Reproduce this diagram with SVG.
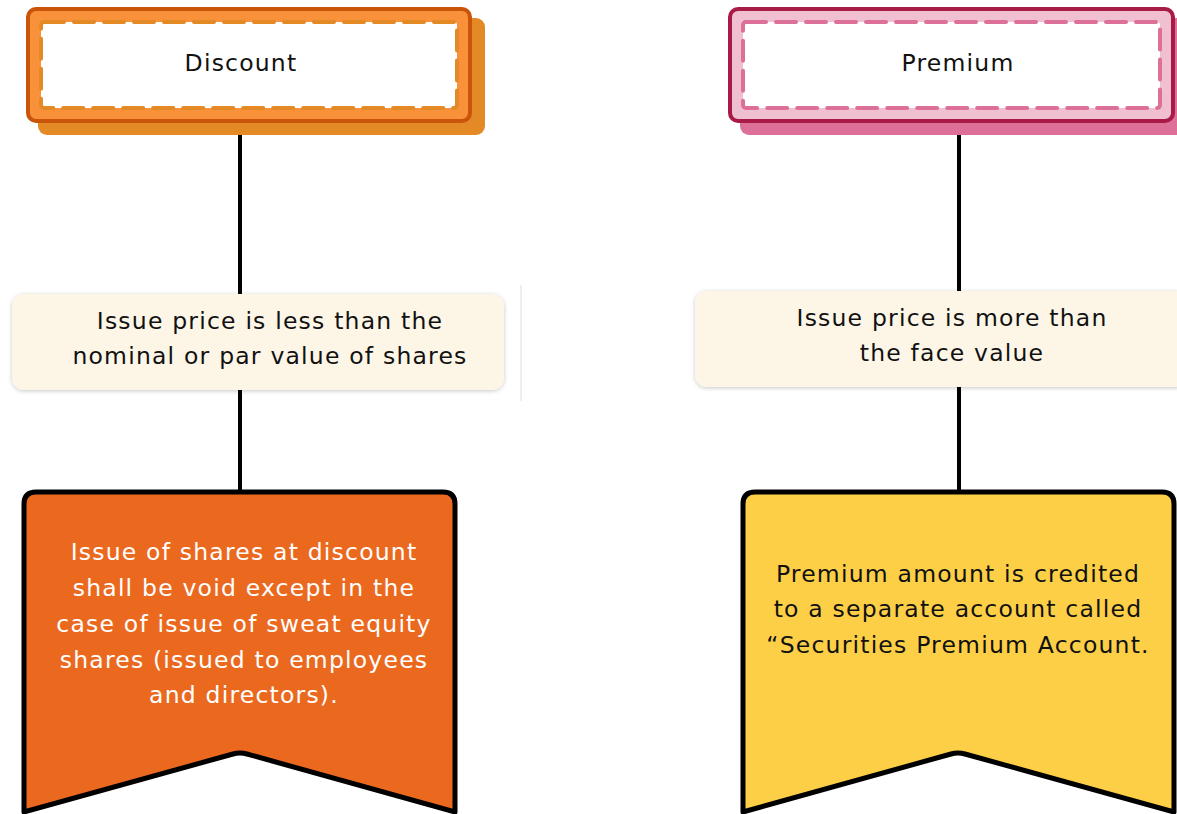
<svg xmlns="http://www.w3.org/2000/svg" width="1177" height="814" viewBox="0 0 1177 814">
<defs>
<style>
text{font-family:"DejaVu Sans","Open Sans",sans-serif;font-size:23.5px;letter-spacing:1.2px;text-anchor:middle;}
.dark{fill:#111;}
.white{fill:#fff;}
.conn{stroke:#000;stroke-width:4;fill:none;}
.mid{fill:#FDF6E7;filter:url(#sh);}
.ban{stroke:#000;stroke-width:5;stroke-linejoin:round;}
</style>
<filter id="sh" x="-10%" y="-20%" width="120%" height="150%">
<feDropShadow dx="0" dy="1" stdDeviation="2" flood-color="#000" flood-opacity="0.22"/>
</filter>
</defs>
<rect width="1177" height="814" fill="#fff"/>
<g id="connectors">
<line class="conn" x1="240" y1="121" x2="240" y2="300"/>
<line class="conn" x1="240" y1="385" x2="240" y2="494"/>
<line class="conn" x1="959" y1="121" x2="959" y2="297"/>
<line class="conn" x1="959" y1="382" x2="959" y2="494"/>
</g>
<line x1="521" y1="285" x2="521" y2="401" stroke="#EADADA" stroke-width="1"/>
<g id="discount">
<rect x="38" y="18" width="447" height="117" rx="9" fill="#E38A26"/>
<rect x="28" y="9" width="442" height="112" rx="8" fill="#F8913A" stroke="#C9540A" stroke-width="4"/>
<rect x="41" y="22" width="416" height="86" rx="3" fill="#fff" stroke="#E38A26" stroke-width="4" stroke-dasharray="20 10" stroke-linecap="round"/>
<text class="dark" x="241" y="71">Discount</text>
</g>
<g id="premium">
<rect x="740" y="18" width="445" height="117" rx="9" fill="#DC7098"/>
<rect x="730" y="9" width="443" height="112" rx="8" fill="#F0BFD0" stroke="#A91B47" stroke-width="4"/>
<rect x="743" y="22" width="417" height="86" rx="3" fill="#fff" stroke="#DC7098" stroke-width="4" stroke-dasharray="20 10" stroke-linecap="round"/>
<text class="dark" x="958" y="71">Premium</text>
</g>
<g id="less">
<rect class="mid" x="12" y="294" width="492" height="96" rx="12"/>
<text class="dark" x="270" y="329">Issue price is less than the</text>
<text class="dark" x="270" y="364">nominal or par value of shares</text>
</g>
<g id="more">
<rect class="mid" x="695" y="291" width="492" height="96" rx="12"/>
<text class="dark" x="952" y="326">Issue price is more than</text>
<text class="dark" x="952" y="361">the face value</text>
</g>
<g id="void">
<path class="ban" fill="#EB691F" d="M24 504 Q24 492 36 492 L443 492 Q455 492 455 504 L455 812 L247 754 Q240 752 233 754 L24 812 Z"/>
<text class="white" x="244" y="560">Issue of shares at discount</text>
<text class="white" x="244" y="596">shall be void except in the</text>
<text class="white" x="244" y="632">case of issue of sweat equity</text>
<text class="white" x="244" y="668">shares (issued to employees</text>
<text class="white" x="244" y="703">and directors).</text>
</g>
<g id="credited">
<path class="ban" fill="#FCCF47" d="M743 504 Q743 492 755 492 L1162 492 Q1174 492 1174 504 L1174 812 L965 754 Q958 752 951 754 L743 812 Z"/>
<text class="dark" x="958" y="582">Premium amount is credited</text>
<text class="dark" x="958" y="617">to a separate account called</text>
<text class="dark" x="958" y="653">“Securities Premium Account.</text>
</g>
</svg>
